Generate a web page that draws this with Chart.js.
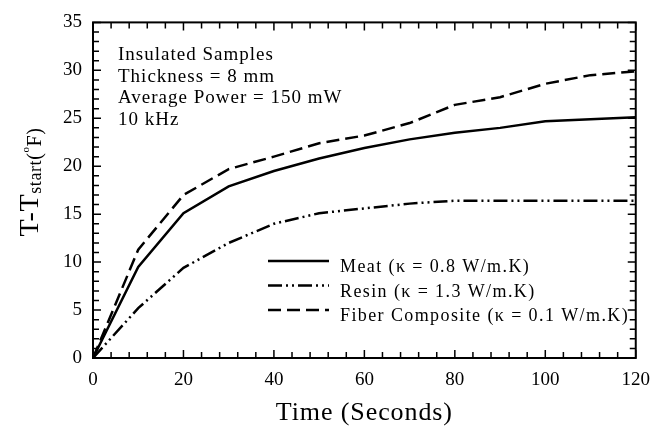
<!DOCTYPE html>
<html>
<head>
<meta charset="utf-8">
<script src="https://cdn.jsdelivr.net/npm/chart.js@4/dist/chart.umd.min.js"></script>
<style>
  html, body { margin: 0; padding: 0; background: #fff; }
  #wrap { width: 661px; height: 429px; }
</style>
</head>
<body>
<div id="wrap"><canvas id="heat-chart"></canvas></div>
<script>
const SERIF = '"Liberation Serif", "Times New Roman", serif';

// time axis (seconds) and temperature rise for each sample
const times = [0, 10, 20, 30, 40, 50, 60, 70, 80, 90, 100, 110, 120];
const meat  = [0, 9.5, 15.1, 17.9, 19.5, 20.8, 21.9, 22.8, 23.5, 24.0, 24.7, 24.9, 25.1];
const resin = [0, 5.2, 9.4, 12.0, 14.0, 15.1, 15.6, 16.1, 16.4, 16.4, 16.4, 16.4, 16.4];
const fiber = [0, 11.3, 17.0, 19.7, 21.0, 22.4, 23.2, 24.5, 26.4, 27.2, 28.6, 29.5, 29.9];

const seriesLabels = [
    'Meat (\u03ba = 0.8 W/m.K)',
    'Resin (\u03ba = 1.3 W/m.K)',
    'Fiber Composite (\u03ba = 0.1 W/m.K)'
];

const xTicks = [0, 20, 40, 60, 80, 100, 120];
const yTicks = [0, 5, 10, 15, 20, 25, 30, 35];

const notes = [
    'Insulated Samples',
    'Thickness = 8 mm',
    'Average Power = 150 mW',
    '10 kHz'
];

const toPoints = (vals) => vals.map((v, i) => ({ x: times[i], y: v }));

// frame with inward ticks on all four sides
const frameTicks = {
    id: 'frameTicks',
    afterDraw(chart) {
        const { ctx, chartArea: a, scales: { x, y } } = chart;
        ctx.save();
        ctx.strokeStyle = '#000';
        ctx.lineWidth = 2;
        ctx.strokeRect(a.left, a.top, a.right - a.left, a.bottom - a.top);
        ctx.lineWidth = 1.5;
        ctx.beginPath();
        for (let v = x.min; v <= x.max; v += 4) {
            const px = x.getPixelForValue(v);
            const len = v % 20 === 0 ? 8 : 6;
            ctx.moveTo(px, a.bottom); ctx.lineTo(px, a.bottom - len);
            ctx.moveTo(px, a.top); ctx.lineTo(px, a.top + len);
        }
        for (let v = y.min; v <= y.max; v += 1) {
            const py = y.getPixelForValue(v);
            const len = v % 5 === 0 ? 8 : 6;
            ctx.moveTo(a.left, py); ctx.lineTo(a.left + len, py);
            ctx.moveTo(a.right, py); ctx.lineTo(a.right - len, py);
        }
        ctx.stroke();
        ctx.restore();
    }
};

// notes, legend and axis titles
const textLayer = {
    id: 'textLayer',
    afterDraw(chart) {
        const { ctx, chartArea: a } = chart;
        ctx.save();
        ctx.fillStyle = '#000';
        ctx.textBaseline = 'alphabetic';

        ctx.font = '19px ' + SERIF;
        ctx.letterSpacing = '1px';
        notes.forEach((t, i) => ctx.fillText(t, 118, 60 + i * 21.7));

        // legend
        ctx.font = '18px ' + SERIF;
        ctx.letterSpacing = '1.4px';
        chart.data.datasets.forEach((ds, i) => {
            const ly = 261 + i * 24.5;
            ctx.save();
            ctx.strokeStyle = ds.borderColor;
            ctx.lineWidth = ds.borderWidth;
            ctx.setLineDash(ds.borderDash || []);
            ctx.beginPath();
            ctx.moveTo(268, ly);
            ctx.lineTo(329, ly);
            ctx.stroke();
            ctx.restore();
            ctx.fillText(ds.label, 340, ly + 11);
        });

        // x title
        ctx.font = '26px ' + SERIF;
        ctx.letterSpacing = '0.9px';
        ctx.textAlign = 'center';
        ctx.fillText('Time (Seconds)', (a.left + a.right) / 2, 420);

        // y title, rotated, with subscript and degree mark
        ctx.textAlign = 'left';
        ctx.letterSpacing = '0.6px';
        ctx.translate(38, 182);
        ctx.rotate(-Math.PI / 2);
        const parts = [
            { t: 'T-T', f: '28px ', dy: 0 },
            { t: 'start', f: '18px ', dy: 3 },
            { t: '(', f: '20px ', dy: 3 },
            { t: 'o', f: '11px ', dy: -9 },
            { t: 'F)', f: '20px ', dy: 3 }
        ];
        let total = 0;
        parts.forEach(p => { ctx.font = p.f + SERIF; p.w = ctx.measureText(p.t).width; total += p.w; });
        let cx = -total / 2;
        parts.forEach(p => {
            ctx.font = p.f + SERIF;
            ctx.fillText(p.t, cx, p.dy);
            cx += p.w;
        });
        ctx.restore();
    }
};

const canvas = document.getElementById('heat-chart');
const heatChart = new Chart(canvas, {
    type: 'line',
    data: {
        datasets: [{
            label: seriesLabels[0],
            data: toPoints(meat),
            borderColor: '#000',
            borderWidth: 2.5,
            borderDash: []
        }, {
            label: seriesLabels[1],
            data: toPoints(resin),
            borderColor: '#000',
            borderWidth: 2.5,
            borderDash: [14, 4, 2, 4, 2, 4]
        }, {
            label: seriesLabels[2],
            data: toPoints(fiber),
            borderColor: '#000',
            borderWidth: 2.5,
            borderDash: [13, 6]
        }]
    },
    options: {
        responsive: true,
        maintainAspectRatio: false,
        animation: false,
        events: [],
        layout: { padding: { top: 18, right: 24, left: 0, bottom: 0 } },
        elements: {
            point: { radius: 0 },
            line: { tension: 0, fill: false }
        },
        plugins: {
            legend: { display: false },
            tooltip: { enabled: false }
        },
        scales: {
            x: {
                type: 'linear',
                min: 0,
                max: 120,
                afterBuildTicks: (s) => { s.ticks = xTicks.map(v => ({ value: v })); },
                afterFit: (s) => { s.height = 71; },
                grid: { display: false, drawTicks: false },
                border: { display: false },
                ticks: {
                    padding: 11,
                    color: '#000',
                    maxRotation: 0,
                    font: { family: SERIF, size: 19 }
                }
            },
            y: {
                type: 'linear',
                min: 0,
                max: 35,
                afterBuildTicks: (s) => { s.ticks = yTicks.map(v => ({ value: v })); },
                afterFit: (s) => { s.width = 93; },
                grid: { display: false, drawTicks: false },
                border: { display: false },
                ticks: {
                    padding: 11,
                    color: '#000',
                    font: { family: SERIF, size: 19 }
                }
            }
        }
    },
    plugins: [frameTicks, textLayer]
});
window.heatChart = heatChart;
</script>
</body>
</html>
